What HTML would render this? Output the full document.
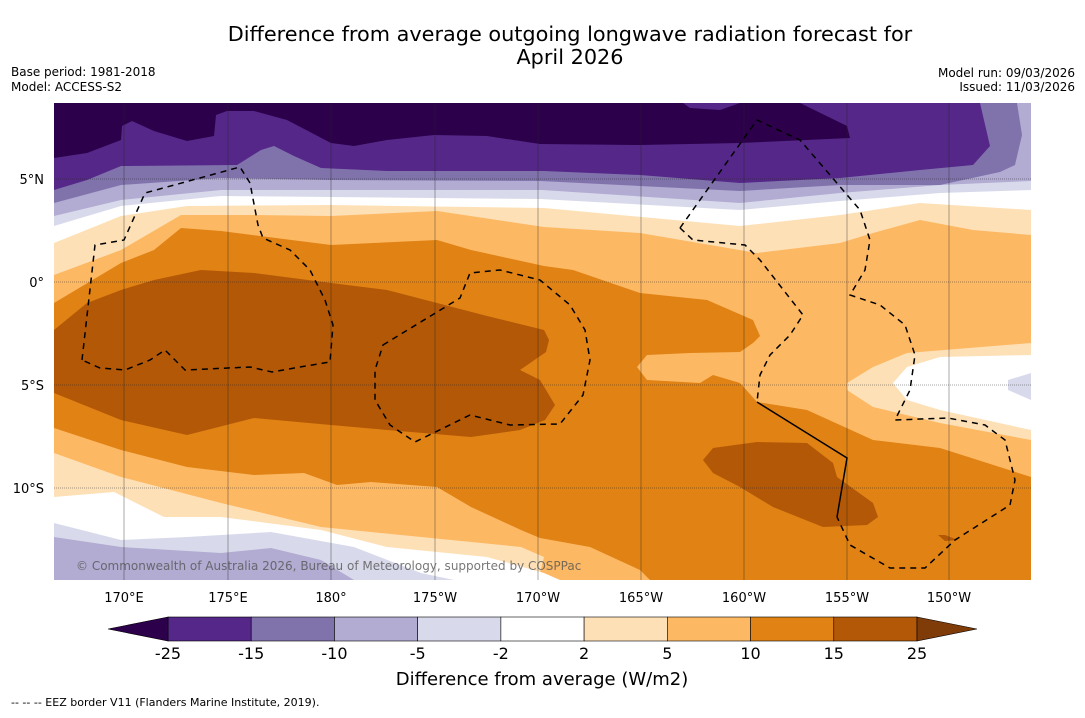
<!DOCTYPE html>
<html><head><meta charset="utf-8">
<style>
html,body{margin:0;padding:0;background:#fff;}
body{width:1085px;height:713px;overflow:hidden;font-family:"Liberation Sans","DejaVu Sans",sans-serif;}
svg text{font-family:"DejaVu Sans","Liberation Sans",sans-serif;}
</style></head>
<body>
<svg id="chart" width="1085" height="713" viewBox="0 0 1085 713">
<text x="570" y="41" text-anchor="middle" font-size="20.8" fill="#000">Difference from average outgoing longwave radiation forecast for</text>
<text x="570" y="64" text-anchor="middle" font-size="20.8" fill="#000">April 2026</text>
<text x="11" y="76" font-size="12">Base period: 1981-2018</text>
<text x="11" y="91" font-size="12">Model: ACCESS-S2</text>
<text x="1075" y="77" font-size="12" text-anchor="end">Model run: 09/03/2026</text>
<text x="1075" y="91" font-size="12" text-anchor="end">Issued: 11/03/2026</text>

<defs><clipPath id="mapclip"><rect x="54" y="103" width="977" height="477"/></clipPath></defs>
<g clip-path="url(#mapclip)">
<rect x="54" y="103" width="977" height="477" fill="#fdb863"/>
<polygon fill="#fee0b6" points="54,103 1031,103 1031,235 973,230 920,220 873,233 840,243 757,253 640,233 544,227 437,211 331,216 254,215 181,215 121,250 54,275"/>
<polygon fill="#ffffff" points="54,103 1031,103 1031,210 920,203 840,215 740,226 544,208 331,205 187,206 121,216 54,243"/>
<polygon fill="#d8daeb" points="54,103 1031,103 1031,190 940,193 840,201 740,210 540,199 221,196 121,206 54,226"/>
<polygon fill="#b2abd2" points="54,103 1031,103 1031,181 940,185 840,193 740,203 542,190 221,190 121,200 54,216"/>
<polygon fill="#8073ac" points="54,103 1017,103 1022,135 1015,165 1000,172 940,185 840,185 740,191 540,181 331,180 221,178 121,185 54,203"/>
<polygon fill="#542788" points="54,103 980,103 990,146 973,165 920,170 840,178 740,183 640,175 544,171 387,171 321,168 294,156 274,146 261,150 237,165 121,166 87,180 54,190"/>
<polygon fill="#2d004b" points="54,103 800,103 847,126 850,138 740,143 640,145 540,144 487,136 434,135 387,140 354,146 331,143 287,120 254,111 227,111 216,115 214,136 187,141 154,131 132,121 122,126 121,140 87,153 54,158"/>
<polygon fill="#542788" points="683,103 690,108 720,110 740,103"/>

<polygon fill="#e08214" points="54,303 121,263 154,250 181,228 221,231 331,245 437,240 471,250 544,266 573,270 640,293 707,300 753,320 760,336 753,343 740,352 690,353 647,355 637,367 647,380 700,383 713,375 740,383 757,402 807,410 840,425 873,440 940,448 1031,477 1031,580 650,580 640,570 590,547 540,538 521,530 471,507 437,487 371,482 337,485 304,473 254,475 187,467 121,450 54,428"/>
<polygon fill="#b35806" points="54,330 87,303 121,290 154,280 201,270 254,273 331,283 387,290 437,303 487,316 544,330 549,340 546,352 520,370 540,380 555,405 545,420 520,430 471,437 387,430 331,425 254,418 187,435 121,420 54,393"/>
<polygon fill="#b35806" points="703,460 713,448 757,442 807,443 833,463 837,477 873,503 878,517 867,525 823,527 773,507 740,487 713,473"/>
<polygon fill="#b35806" points="938,535 945,535 958,540 945,541"/>

<polygon fill="#fee0b6" points="1031,343 907,353 873,367 847,383 847,390 873,407 940,423 1031,440"/>
<polygon fill="#ffffff" points="1031,355 940,357 907,367 893,383 907,400 940,410 1031,430"/>
<polygon fill="#d8daeb" points="1031,373 1008,380 1008,390 1031,400"/>

<polygon fill="#fee0b6" points="54,453 121,477 221,503 321,527 421,537 521,547 544,557 540,573 560,580 54,580"/>
<polygon fill="#ffffff" points="54,497 114,492 164,517 221,517 321,530 387,547 487,557 544,573 560,580 54,580"/>
<polygon fill="#d8daeb" points="54,523 121,540 187,537 271,532 354,547 421,573 454,580 54,580"/>
<polygon fill="#b2abd2" points="54,537 121,547 221,553 271,548 321,560 354,580 54,580"/>

<g stroke="#222" stroke-opacity="0.55" stroke-width="0.7">
<line x1="124" y1="103" x2="124" y2="580"/><line x1="228" y1="103" x2="228" y2="580"/><line x1="331" y1="103" x2="331" y2="580"/><line x1="435" y1="103" x2="435" y2="580"/><line x1="538" y1="103" x2="538" y2="580"/><line x1="641" y1="103" x2="641" y2="580"/><line x1="744" y1="103" x2="744" y2="580"/><line x1="847" y1="103" x2="847" y2="580"/><line x1="949" y1="103" x2="949" y2="580"/>
<g stroke-dasharray="1,1"><line x1="54" y1="179" x2="1031" y2="179"/><line x1="54" y1="282" x2="1031" y2="282"/><line x1="54" y1="385" x2="1031" y2="385"/><line x1="54" y1="488" x2="1031" y2="488"/></g>
</g>

<g fill="none" stroke="#000" stroke-width="1.5" stroke-dasharray="6,5">
<path d="M82,360 L95,245 L124,240 L145,193 L240,167 L250,183 L258,225 L263,238 L290,250 L310,270 L325,300 L333,325 L330,362 L300,367 L272,372 L250,367 L185,370 L165,350 L150,360 L125,370 L100,368 Z"/>
<path d="M383,345 L460,298 L470,273 L500,270 L540,280 L570,305 L585,330 L590,360 L583,395 L560,424 L510,425 L470,415 L415,442 L390,425 L375,400 L375,370 Z"/>
<path d="M680,228 L757,120 L800,140 L830,175 L860,210 L870,240 L865,270 L850,295 L880,305 L905,325 L915,355 L910,390 L895,420 L948,418 L985,425 L1005,440 L1015,480 L1010,505 L955,540 L925,568 L890,568 L850,545 L837,517"/>
<path d="M680,228 L693,240 L745,245 L760,260 L803,315 L790,335 L770,355 L760,375 L757,402"/>
</g>
<path d="M757,402 L847,458 L837,517" fill="none" stroke="#000" stroke-width="1.5"/>
<text x="76" y="570" font-size="12" fill="#555" fill-opacity="0.8">© Commonwealth of Australia 2026, Bureau of Meteorology, supported by COSPPac</text>
</g>

<g font-size="13" fill="#000">
<text x="44" y="184" text-anchor="end">5°N</text><text x="44" y="287" text-anchor="end">0°</text><text x="44" y="390" text-anchor="end">5°S</text><text x="44" y="493" text-anchor="end">10°S</text>
</g>
<g font-size="13" fill="#000" text-anchor="middle">
<text x="124" y="602">170°E</text><text x="228" y="602">175°E</text><text x="331" y="602">180°</text><text x="435" y="602">175°W</text><text x="538" y="602">170°W</text><text x="641" y="602">165°W</text><text x="744" y="602">160°W</text><text x="847" y="602">155°W</text><text x="949" y="602">150°W</text>
</g>
<g id="colorbar"></g>
<text x="542" y="685" text-anchor="middle" font-size="18">Difference from average (W/m2)</text>
<text x="11" y="706" font-size="11">--  --  -- EEZ border V11 (Flanders Marine Institute, 2019).</text>
</svg>
<script>
const levelLabels = ["-25","-15","-10","-5","-2","2","5","10","15","25"];
const bandColors = ["#542788","#8073ac","#b2abd2","#d8daeb","#ffffff","#fee0b6","#fdb863","#e08214","#b35806"];
const extendColors = ["#2d004b","#7f3b08"];
const NS="http://www.w3.org/2000/svg";
const cb=document.getElementById('colorbar');
const x0=168,x1=917,yT=617,yB=641,ext=60;
const w=(x1-x0)/bandColors.length;
function xAt(i){return x0+i*w;}
bandColors.forEach((c,i)=>{
  const r=document.createElementNS(NS,'rect');
  r.setAttribute('x',xAt(i));r.setAttribute('y',yT);r.setAttribute('width',w);r.setAttribute('height',yB-yT);
  r.setAttribute('fill',c);r.setAttribute('stroke','#000');r.setAttribute('stroke-width','0.6');
  
  
  cb.appendChild(r);
});
const l=document.createElementNS(NS,'polygon');
l.setAttribute('points',`${x0},${yT} ${x0-ext},${(yT+yB)/2} ${x0},${yB}`);
l.setAttribute('fill',extendColors[0]);l.setAttribute('stroke','#000');l.setAttribute('stroke-width','0.6');


cb.appendChild(l);
const rt=document.createElementNS(NS,'polygon');
rt.setAttribute('points',`${x1},${yT} ${x1+ext},${(yT+yB)/2} ${x1},${yB}`);
rt.setAttribute('fill',extendColors[1]);rt.setAttribute('stroke','#000');rt.setAttribute('stroke-width','0.6');


cb.appendChild(rt);
levelLabels.forEach((t,i)=>{
  const tx=document.createElementNS(NS,'text');
  tx.setAttribute('x',xAt(i));tx.setAttribute('y',659);tx.setAttribute('text-anchor','middle');tx.setAttribute('font-size','16');
  tx.textContent=t;
  
  
  cb.appendChild(tx);
});
</script>
</body></html>
